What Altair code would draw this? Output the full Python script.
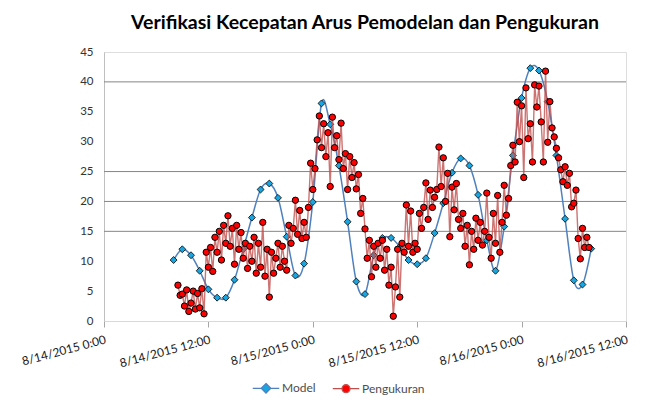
import altair as alt
import pandas as pd

title_text = "Verifikasi Kecepatan Arus Pemodelan dan Pengukuran"
series_names = ["Model", "Pengukuran"]

# Model: hourly values starting 8/14/2015 8:00
model_start = "2015-08-14 08:00"
model_values = [10.2, 12.0, 11.0, 8.4, 5.3, 3.9, 3.9, 6.9, 12.0, 17.3,
                22.0, 23.0, 20.6, 14.1, 7.6, 9.6, 19.9, 36.4, 32.9, 26.0,
                16.6, 6.6, 4.5, 11.0, 13.9, 13.9, 12.4, 10.2, 9.5, 10.5,
                14.7, 19.7, 24.8, 27.2, 26.0, 21.1, 13.5, 8.4, 15.8, 27.7,
                37.3, 42.3, 41.9, 36.7, 27.7, 17.1, 6.8, 6.1, 12.1]

# Pengukuran: 15-minute values starting 8/14/2015 8:30
meas_start = "2015-08-14 08:30"
meas_values = [
    6.0, 4.3,
    4.5, 2.5, 5.2, 1.6,
    3.0, 5.0, 2.0, 4.6,
    2.2, 5.4, 1.2, 11.5,
    9.0, 12.3, 8.3, 14.0,
    11.5, 15.0, 10.2, 16.0,
    13.0, 17.6, 12.5, 15.5,
    9.5, 16.0, 12.0, 14.8,
    10.5, 13.0, 8.8, 12.5,
    10.0, 14.0, 8.0, 13.0,
    9.0, 16.5, 7.5, 12.0,
    4.0, 11.5, 8.0, 10.5,
    13.0, 9.0, 12.5, 10.0,
    8.5, 16.0, 13.0, 15.5,
    20.2, 14.5, 18.5, 13.8,
    16.5, 14.0, 19.0, 26.4,
    22.0, 25.5, 30.3, 34.3,
    29.0, 33.0, 27.5, 31.5,
    22.5, 34.1, 29.0, 31.0,
    27.0, 33.1, 25.5, 28.0,
    22.0, 27.5, 24.0, 26.5,
    22.1, 24.5, 18.0, 20.5,
    15.4, 10.5, 13.5, 7.4,
    12.5, 9.0, 13.0, 10.5,
    13.5, 8.5, 12.0, 6.0,
    9.0, 0.8, 5.7, 12.0,
    4.0, 13.0, 11.5, 19.4,
    12.5, 18.4, 11.5, 13.0,
    12.0, 18.0, 15.5, 19.0,
    23.1, 17.0, 21.9, 19.0,
    20.7, 22.0, 29.1, 22.5,
    27.3, 20.0, 24.7, 14.1,
    22.4, 18.6, 23.0, 17.0,
    15.5, 18.0, 12.5, 16.0,
    9.4, 15.0, 12.0, 17.2,
    13.5, 16.5, 12.7, 15.0,
    21.4, 14.0, 10.5, 18.0,
    13.0, 21.0, 11.5, 16.5,
    22.7, 17.7, 20.5, 26.0,
    29.4, 26.6, 36.6, 30.0,
    36.0, 24.0, 39.0, 30.5,
    33.0, 26.6, 39.5, 35.8,
    39.3, 33.3, 26.6, 41.8,
    29.9, 36.7, 32.3, 30.8,
    28.9, 27.3, 25.3, 23.3,
    25.8, 22.7, 24.7, 19.1,
    19.7, 21.9, 13.8, 10.4,
    15.5, 12.3, 14.0, 12.3,
]

y_ticks = [0, 5, 10, 15, 20, 25, 30, 35, 40, 45]
grid_values = [15, 20, 25, 40]
x_tick_times = ["2015-08-14 00:00", "2015-08-14 12:00", "2015-08-15 00:00",
                "2015-08-15 12:00", "2015-08-16 00:00", "2015-08-16 12:00"]

FONT = "Lato"


def to_dt(s):
    t = pd.Timestamp(s)
    return alt.DateTime(year=t.year, month=t.month, date=t.day, hours=t.hour, minutes=t.minute)


model_df = pd.DataFrame({
    "t": pd.date_range(model_start, periods=len(model_values), freq="h").strftime("%Y-%m-%dT%H:%M:%S"),
    "v": model_values,
})
meas_df = pd.DataFrame({
    "t": pd.date_range(meas_start, periods=len(meas_values), freq="15min").strftime("%Y-%m-%dT%H:%M:%S"),
    "v": meas_values,
})
grid_df = pd.DataFrame({"g": grid_values})
legend_df = pd.DataFrame({"s": series_names})

tick_dts = [to_dt(s) for s in x_tick_times]
xscale = alt.Scale(domain=[tick_dts[0], tick_dts[-1]])
yscale = alt.Scale(domain=[0, 45], nice=False)

x_axis = alt.Axis(values=tick_dts, format="%-m/%-d/%Y %-H:%M", formatType="time",
                  labelAngle=-15, labelAlign="right", labelBaseline="top",
                  labelPadding=7, labelFontSize=12, labelColor="#1a1a1a", labelFont=FONT,
                  grid=False, ticks=True, tickSize=6, tickColor="#a6a6a6",
                  domainColor="#d9d9d9", labelOverlap=False, labelFlush=False)
y_axis = alt.Axis(values=y_ticks, grid=False, ticks=False, domainColor="#bfbfbf",
                  labelPadding=11, labelFontSize=11.5, labelColor="#333333", labelFont=FONT,
                  labelOverlap=False, tickCount=10)

X = alt.X("t:T", scale=xscale, title=None, axis=x_axis)
Y = alt.Y("v:Q", scale=yscale, title=None, axis=y_axis)

grid = alt.Chart(grid_df).mark_rule(color="#868686", strokeWidth=1).encode(
    y=alt.Y("g:Q", scale=yscale, title=None, axis=y_axis))

model_line = alt.Chart(model_df).mark_line(
    color="#4f81bd", strokeWidth=1.5, interpolate="cardinal").encode(x=X, y=Y)
model_pts = alt.Chart(model_df).mark_point(
    shape="diamond", filled=True, fill="#19a6e0", stroke="#000000", strokeWidth=0.8,
    size=48, opacity=1).encode(x=X, y=Y)
meas_line = alt.Chart(meas_df).mark_line(
    color="#c0504d", strokeWidth=1.4, opacity=0.8).encode(x=X, y=Y)
meas_pts = alt.Chart(meas_df).mark_point(
    shape="circle", filled=True, fill="#ff0000", stroke="#000000", strokeWidth=1,
    size=40, opacity=1).encode(x=X, y=Y)

diamond_path = "M-1,0H-0.33M0.33,0H1M0,-0.36L0.36,0L0,0.36L-0.36,0Z"
circle_path = "M-1,0H-0.3M0.3,0H1M-0.3,0A0.3,0.3 0 1,1 0.3,0A0.3,0.3 0 1,1 -0.3,0Z"

leg = alt.Legend(title=None, orient="none", legendX=148, legendY=322, direction="horizontal",
                 symbolSize=700, symbolStrokeWidth=1.3, labelFont=FONT, labelFontSize=12,
                 labelColor="#4d4d4d", columnPadding=14, labelOffset=2)
legend_layer = alt.Chart(legend_df).transform_filter("false").mark_point(
    filled=True, opacity=1).encode(
    color=alt.Color("s:N", scale=alt.Scale(domain=series_names, range=["#19a6e0", "#ff0000"]), legend=leg),
    stroke=alt.Stroke("s:N", scale=alt.Scale(domain=series_names, range=["#4f81bd", "#c0504d"]), legend=leg),
    shape=alt.Shape("s:N", scale=alt.Scale(domain=series_names, range=[diamond_path, circle_path]), legend=leg),
)

chart = alt.layer(grid, model_line, model_pts, meas_line, meas_pts, legend_layer).properties(
    width=522, height=269,
    title=alt.TitleParams(title_text, font=FONT, fontSize=19.5, fontWeight="bold",
                          anchor="middle", offset=13, color="#000000"),
    autosize=alt.AutoSizeParams(type="none"),
    padding={"left": 96, "top": 44, "right": 11, "bottom": 76},
).configure_view(stroke=None).configure(background="white")

chart.save("out.html", embed_options={"renderer": "svg", "actions": False})
